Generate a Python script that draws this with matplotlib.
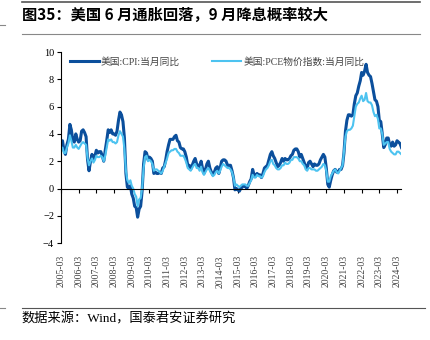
import matplotlib.pyplot as plt
import matplotlib.dates as mdates
import pandas as pd

plt.rcParams['font.family'] = ['Liberation Serif', 'Noto Sans CJK SC']

# monthly, 2005-03 .. 2024-06
cpi = [3.1, 3.5, 2.8, 2.5, 3.2, 3.6, 4.7, 4.3, 3.5, 3.4,
       4.0, 3.6, 3.4, 3.5, 4.2, 4.3, 4.1, 3.8, 2.1, 1.3, 2.0, 2.5,
       2.1, 2.4, 2.8, 2.6, 2.7, 2.7, 2.4, 2.0, 2.8, 3.5, 4.3, 4.1,
       4.3, 4.0, 4.0, 3.9, 4.2, 5.0, 5.6, 5.4, 4.9, 3.7, 1.1, 0.1,
       0.0, 0.2, -0.4, -0.7, -1.3, -1.4, -2.1, -1.5, -1.3, -0.2, 1.8, 2.7,
       2.6, 2.1, 2.3, 2.2, 2.0, 1.1, 1.2, 1.1, 1.1, 1.2, 1.1, 1.5,
       1.6, 2.1, 2.7, 3.2, 3.6, 3.6, 3.6, 3.8, 3.9, 3.5, 3.4, 3.0,
       2.9, 2.9, 2.7, 2.3, 1.7, 1.7, 1.4, 1.7, 2.0, 2.2, 1.8, 1.7,
       1.6, 2.0, 1.5, 1.1, 1.4, 1.8, 2.0, 1.5, 1.2, 1.0, 1.2, 1.5,
       1.6, 1.1, 1.5, 2.0, 2.1, 2.1, 2.0, 1.7, 1.7, 1.7, 1.3, 0.8,
       -0.1, 0.0, -0.1, -0.2, 0.0, 0.1, 0.2, 0.2, 0.0, 0.2, 0.5, 0.7,
       1.4, 1.0, 0.9, 1.1, 1.0, 1.0, 0.8, 1.1, 1.5, 1.6, 1.7, 2.1,
       2.5, 2.7, 2.4, 2.2, 1.9, 1.6, 1.7, 1.9, 2.2, 2.0, 2.2, 2.1,
       2.1, 2.2, 2.4, 2.5, 2.8, 2.9, 2.9, 2.7, 2.3, 2.5, 2.2, 1.9,
       1.6, 1.5, 1.9, 2.0, 1.8, 1.6, 1.8, 1.7, 1.7, 1.8, 2.1, 2.3,
       2.5, 2.3, 1.5, 0.3, 0.1, 0.6, 1.0, 1.3, 1.4, 1.2, 1.2, 1.4,
       1.4, 1.7, 2.6, 4.2, 5.0, 5.4, 5.4, 5.3, 5.4, 6.2, 6.8, 7.0,
       7.5, 7.9, 8.5, 8.3, 8.6, 9.1, 8.5, 8.3, 8.2, 7.7, 7.1, 6.5,
       6.4, 6.0, 5.0, 4.9, 4.0, 3.0, 3.2, 3.7, 3.7, 3.2, 3.1, 3.4,
       3.1, 3.2, 3.5, 3.4, 3.3, 3.0]

pce = [2.9, 3.0, 2.6, 2.6, 3.0, 3.3, 3.9, 3.5, 3.0, 3.0,
       3.2, 3.0, 2.9, 3.1, 3.3, 3.4, 3.3, 3.2, 2.2, 1.7, 2.0, 2.2,
       1.9, 2.1, 2.4, 2.3, 2.3, 2.4, 2.3, 2.0, 2.4, 3.0, 3.6, 3.5,
       3.6, 3.4, 3.4, 3.3, 3.4, 3.9, 4.2, 4.0, 3.8, 2.9, 1.3, 0.6,
       0.4, 0.6, 0.2, 0.0, -0.4, -0.6, -1.3, -0.8, -0.7, 0.0, 1.5, 2.3,
       2.4, 2.0, 2.1, 2.0, 1.8, 1.3, 1.4, 1.4, 1.3, 1.2, 1.1, 1.3,
       1.6, 1.9, 2.2, 2.6, 2.7, 2.8, 2.8, 2.9, 2.9, 2.7, 2.6, 2.4,
       2.4, 2.4, 2.2, 1.9, 1.5, 1.4, 1.3, 1.5, 1.7, 1.8, 1.5, 1.5,
       1.3, 1.6, 1.2, 1.0, 1.2, 1.4, 1.5, 1.3, 1.1, 0.9, 1.0, 1.2,
       1.3, 1.1, 1.3, 1.6, 1.8, 1.7, 1.6, 1.5, 1.5, 1.4, 1.2, 0.8,
       0.2, 0.3, 0.2, 0.1, 0.2, 0.3, 0.3, 0.3, 0.2, 0.2, 0.4, 0.6,
       1.0, 0.8, 0.8, 1.0, 0.9, 0.9, 0.8, 0.9, 1.2, 1.4, 1.5, 1.7,
       2.0, 2.1, 1.8, 1.7, 1.5, 1.4, 1.4, 1.5, 1.7, 1.7, 1.9, 1.8,
       1.8, 1.9, 2.1, 2.1, 2.3, 2.3, 2.3, 2.2, 2.0, 2.0, 1.8, 1.7,
       1.4, 1.3, 1.5, 1.5, 1.4, 1.4, 1.4, 1.3, 1.3, 1.4, 1.5, 1.6,
       1.8, 1.7, 1.3, 0.5, 0.5, 0.9, 1.1, 1.3, 1.4, 1.2, 1.1, 1.3,
       1.5, 1.7, 2.7, 3.8, 4.2, 4.3, 4.3, 4.4, 4.6, 5.3, 6.0, 6.2,
       6.3, 6.6, 6.8, 6.4, 6.5, 7.0, 6.4, 6.3, 6.3, 6.1, 5.6, 5.3,
       5.4, 5.1, 4.4, 4.4, 4.0, 3.2, 3.3, 3.4, 3.4, 2.9, 2.7, 2.6,
       2.5, 2.5, 2.7, 2.7, 2.6, 2.5]

dates = pd.date_range('2005-03-01', periods=len(cpi), freq='MS')
tick_dates = pd.date_range('2005-03-01', '2024-03-01', freq='12MS')

fig = plt.figure(figsize=(4.31, 3.40), dpi=100)
ax = fig.add_axes([0.1415, 0.285, 0.79, 0.562])

ax.plot(dates, cpi, color='#0B4F9C', lw=2.2, label='美国:CPI:当月同比')
ax.plot(dates, pce, color='#4DC3F0', lw=1.5, label='美国:PCE物价指数:当月同比')

ax.set_ylim(-4, 10)
ax.set_yticks(range(-4, 11, 2))
ax.set_xlim(dates[0], dates[-1])
ax.set_xticks(tick_dates)
ax.xaxis.set_major_formatter(mdates.DateFormatter('%Y-%m'))

ax.spines['top'].set_visible(False)
ax.spines['right'].set_visible(False)
ax.spines['bottom'].set_position(('data', 0))
ax.tick_params(axis='y', direction='out', length=3, labelsize=7.5, pad=2)
ax.tick_params(axis='x', direction='out', length=3, labelsize=7, pad=45,
               labelrotation=90, labelcolor='#444444')

leg = ax.legend(loc='upper left', ncol=2, frameon=False, fontsize=7,
                bbox_to_anchor=(0.0, 1.02), handlelength=3, columnspacing=3.3,
                handletextpad=0.2)
for t in leg.get_texts():
    t.set_color('#444444')

# header / footer
fig.text(0.051, 0.955, '图35：美国 6 月通胀回落，9 月降息概率较大',
         fontsize=11, fontweight='bold', va='center',
         family=['Noto Sans CJK SC', 'DejaVu Sans'])
fig.lines.append(plt.Line2D([0.05, 0.975], [0.993, 0.993], color='#555555', lw=1.2, transform=fig.transFigure))
fig.lines.append(plt.Line2D([0.05, 0.975], [0.9, 0.9], color='#888888', lw=0.8, transform=fig.transFigure))
fig.lines.append(plt.Line2D([0.0, 0.012], [0.926, 0.926], color='#888888', lw=0.8, transform=fig.transFigure))
fig.lines.append(plt.Line2D([0.05, 0.985], [0.094, 0.094], color='#555555', lw=0.8, transform=fig.transFigure))
fig.lines.append(plt.Line2D([0.0, 0.012], [0.094, 0.094], color='#888888', lw=0.8, transform=fig.transFigure))
fig.text(0.051, 0.062, '数据来源：Wind，国泰君安证券研究', fontsize=9.5, va='center')

fig.savefig('out.png', dpi=100)
